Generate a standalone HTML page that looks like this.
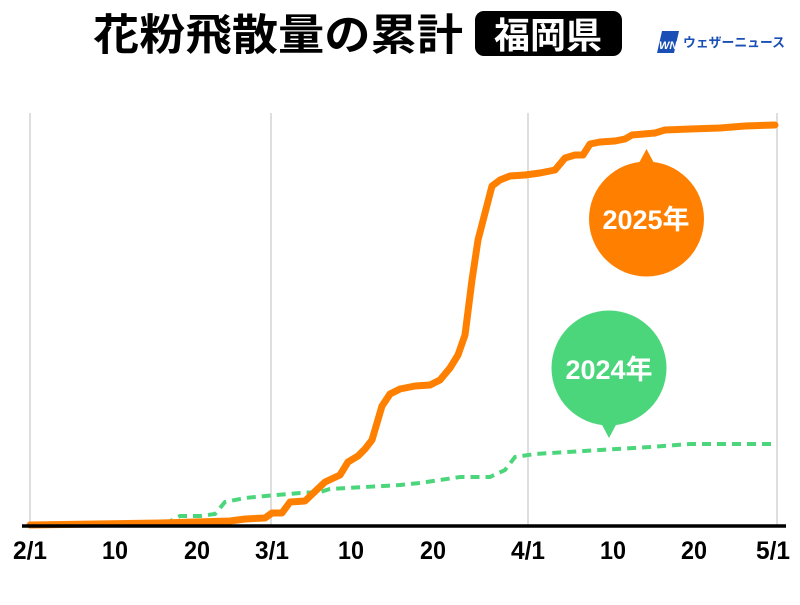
<!DOCTYPE html>
<html><head><meta charset="utf-8"><style>
body{margin:0;background:#fff;width:800px;height:600px;overflow:hidden;font-family:"Liberation Sans","Noto Sans CJK JP",sans-serif;}
</style></head><body>
<svg width="800" height="600" viewBox="0 0 800 600" xmlns="http://www.w3.org/2000/svg">
<text x="93" y="50" font-size="43" font-weight="bold" fill="#000" font-family="Noto Sans CJK JP,sans-serif" textLength="370" lengthAdjust="spacingAndGlyphs">花粉飛散量の累計</text>
<rect x="475" y="11" width="147" height="45" rx="9" fill="#000"/>
<text x="548" y="48" font-size="36" font-weight="bold" fill="#fff" text-anchor="middle" font-family="Noto Sans CJK JP,sans-serif">福岡県</text>
<polygon points="662,31 679,31 674,53 657,53" fill="#1a4fb5"/>
<text x="659" y="49" font-size="11" font-weight="bold" fill="#fff" font-style="italic">WN</text>
<text x="683" y="47" font-size="13" font-weight="bold" fill="#1a4fb5" font-family="Noto Sans CJK JP,sans-serif" textLength="102" lengthAdjust="spacingAndGlyphs">ウェザーニュース</text>
<g stroke="#d4d4d4" stroke-width="1.5">
<line x1="30" y1="113" x2="30" y2="525"/><line x1="271" y1="113" x2="271" y2="525"/>
<line x1="528" y1="113" x2="528" y2="525"/><line x1="777" y1="113" x2="777" y2="525"/>
</g>
<polyline fill="none" stroke="#4cd67c" stroke-width="4" stroke-dasharray="9,6" points="30,525 165,524 180,516 200,516 215,514 225,502 245,498 265,496 300,493 320,492 330,489 400,485 420,483 440,480 460,477 490,477 505,470 515,457 535,454 600,450 650,447 690,444 777,444"/>
<polyline fill="none" stroke="#ff8000" stroke-width="7" stroke-linejoin="round" stroke-linecap="round" points="30,525 160,523 230,521 245,519 265,518 272,513 282,513 290,502 305,501 325,482 340,475 348,462 358,456 365,449 372,440 382,406 390,394 400,389 415,386 430,385 440,380 450,368 458,355 465,335 472,280 478,240 485,213 492,186 500,180 510,176 525,175 540,173 555,170 565,158 575,155 583,155 590,144 600,142 615,141 625,139 632,135 655,133 665,130 690,129 720,128 745,126 775,125"/>
<line x1="22" y1="526" x2="786" y2="526" stroke="#000" stroke-width="3.5"/>
<circle cx="646.5" cy="219" r="57.5" fill="#ff8000"/>
<polygon points="639,163 646.5,149 654,163" fill="#ff8000"/>
<text x="646" y="229" font-size="27" font-weight="bold" fill="#fff" text-anchor="middle">2025年</text>
<circle cx="609" cy="368" r="57.5" fill="#4cd67c"/>
<polygon points="601,423 609,438 617,423" fill="#4cd67c"/>
<text x="609" y="379" font-size="27" font-weight="bold" fill="#fff" text-anchor="middle">2024年</text>
<g font-size="25" font-weight="bold" fill="#000" text-anchor="middle">
<text x="30" y="559" textLength="34" lengthAdjust="spacingAndGlyphs">2/1</text>
<text x="115" y="559" textLength="26" lengthAdjust="spacingAndGlyphs">10</text>
<text x="197" y="559" textLength="26" lengthAdjust="spacingAndGlyphs">20</text>
<text x="272" y="559" textLength="34" lengthAdjust="spacingAndGlyphs">3/1</text>
<text x="351" y="559" textLength="26" lengthAdjust="spacingAndGlyphs">10</text>
<text x="433" y="559" textLength="26" lengthAdjust="spacingAndGlyphs">20</text>
<text x="528" y="559" textLength="34" lengthAdjust="spacingAndGlyphs">4/1</text>
<text x="613" y="559" textLength="26" lengthAdjust="spacingAndGlyphs">10</text>
<text x="694" y="559" textLength="26" lengthAdjust="spacingAndGlyphs">20</text>
<text x="773" y="559" textLength="34" lengthAdjust="spacingAndGlyphs">5/1</text>
</g>
</svg>
</body></html>
